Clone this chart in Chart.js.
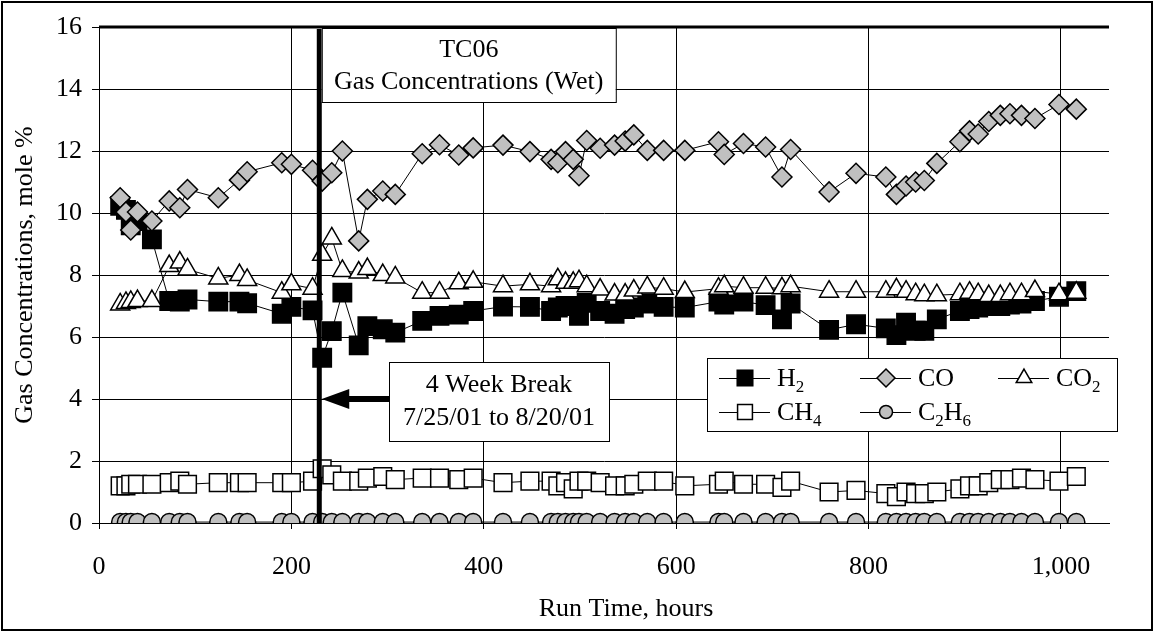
<!DOCTYPE html>
<html>
<head>
<meta charset="utf-8">
<script src="https://cdn.jsdelivr.net/npm/chart.js@4.4.1/dist/chart.umd.min.js"></script>
<style>
  html, body { margin: 0; padding: 0; background: #fff; }
  canvas { display: block; }
</style>
</head>
<body>
<canvas id="chart" width="1154" height="632"></canvas>
<script>
// Run time of each gas sample, hours
const hours = [22, 28, 33, 40, 55, 73, 84, 92, 124, 146, 154, 190, 200, 222, 232,
  242, 253, 270, 279, 295, 308, 336, 354, 374, 389, 420, 448, 470, 477, 485,
  493, 499, 507, 521, 536, 547, 556, 570, 587, 609, 644, 650, 670, 693, 710,
  719, 759, 787, 818, 829, 839, 849, 858, 871, 895, 905, 914, 925, 937, 947,
  959, 973, 998, 1016];

// Wet gas concentrations, mole %
const h2 = [10.23, 10.1, 9.6, 9.74, 9.15, 7.16, 7.14, 7.21, 7.14, 7.14, 7.09, 6.75, 6.97, 6.86, 5.33,
  6.19, 7.43, 5.73, 6.35, 6.25, 6.14, 6.52, 6.68, 6.72, 6.84, 6.98, 6.97, 6.84, 6.95, 7.0,
  7.0, 6.68, 7.1, 6.84, 6.75, 6.9, 6.95, 7.08, 6.97, 6.95, 7.14, 7.05, 7.14, 7.03, 6.57,
  7.08, 6.23, 6.41, 6.28, 6.06, 6.46, 6.2, 6.2, 6.57, 6.84, 6.9, 6.95, 7.0, 7.0, 7.05,
  7.08, 7.16, 7.3, 7.48];
const co = [10.49, 10.03, 9.45, 10.03, 9.74, 10.39, 10.17, 10.76, 10.49, 11.06, 11.33, 11.62, 11.57, 11.38, 11.03,
  11.3, 12.0, 9.1, 10.44, 10.71, 10.6, 11.91, 12.2, 11.87, 12.1, 12.19, 11.98, 11.73, 11.62, 11.98,
  11.73, 11.2, 12.34, 12.09, 12.19, 12.32, 12.52, 12.02, 12.02, 12.02, 12.3, 11.89, 12.24, 12.13, 11.16,
  12.05, 10.68, 11.28, 11.16, 10.6, 10.87, 11.0, 11.05, 11.6, 12.3, 12.65, 12.55, 12.95, 13.15, 13.2,
  13.15, 13.05, 13.5, 13.35];
const co2 = [7.05, 7.1, 7.13, 7.16, 7.16, 8.29, 8.4, 8.18, 7.89, 8.0, 7.84, 7.43, 7.7, 7.56, 8.65,
  9.18, 8.13, 8.08, 8.19, 8.0, 7.92, 7.43, 7.43, 7.73, 7.78, 7.64, 7.7, 7.64, 7.86, 7.75,
  7.75, 7.8, 7.64, 7.53, 7.37, 7.37, 7.5, 7.6, 7.56, 7.45, 7.56, 7.64, 7.59, 7.59, 7.57,
  7.64, 7.46, 7.46, 7.46, 7.54, 7.46, 7.38, 7.35, 7.35, 7.38, 7.43, 7.38, 7.32, 7.32, 7.38,
  7.38, 7.48, 7.38, 7.43];
const ch4 = [1.2, 1.2, 1.25, 1.25, 1.25, 1.3, 1.35, 1.25, 1.3, 1.3, 1.3, 1.3, 1.3, 1.35, 1.75,
  1.55, 1.35, 1.35, 1.45, 1.5, 1.4, 1.45, 1.45, 1.4, 1.45, 1.3, 1.35, 1.35, 1.2, 1.3,
  1.1, 1.35, 1.35, 1.3, 1.2, 1.2, 1.25, 1.35, 1.35, 1.2, 1.25, 1.35, 1.25, 1.25, 1.15,
  1.35, 1.0, 1.05, 0.95, 0.85, 1.0, 0.95, 0.95, 1.0, 1.1, 1.2, 1.2, 1.3, 1.4, 1.4,
  1.45, 1.4, 1.35, 1.5];
const c2h6 = [0.03, 0.03, 0.03, 0.03, 0.03, 0.03, 0.03, 0.03, 0.03, 0.03, 0.03, 0.03, 0.03, 0.03, 0.03,
  0.03, 0.03, 0.03, 0.03, 0.03, 0.03, 0.03, 0.03, 0.03, 0.03, 0.03, 0.03, 0.03, 0.03, 0.03,
  0.03, 0.03, 0.03, 0.03, 0.03, 0.03, 0.03, 0.03, 0.03, 0.03, 0.03, 0.03, 0.03, 0.03, 0.03,
  0.03, 0.03, 0.03, 0.03, 0.03, 0.03, 0.03, 0.03, 0.03, 0.03, 0.03, 0.03, 0.03, 0.03, 0.03,
  0.03, 0.03, 0.03, 0.03];

// Axis ticks
const xTicks = [0, 200, 400, 600, 800, 1000];
const yTicks = [0, 2, 4, 6, 8, 10, 12, 14, 16];

// Axis titles
const xTitle = 'Run Time, hours';
const yTitle = 'Gas Concentrations, mole %';

// Plant outage marker (run hour) and its note
const breakHours = 229;
const titleLines = ['TC06', 'Gas Concentrations (Wet)'];
const breakLines = ['4 Week Break', '7/25/01 to 8/20/01'];

// Series names: "_d" marks a subscript digit
const seriesNames = ['H_2', 'CO', 'CO_2', 'CH_4', 'C_2H_6'];

const FONT = '"Liberation Serif", "Times New Roman", serif';

function pts(vals) { return hours.map((h, i) => ({ x: h, y: vals[i] })); }

function series(i, vals, style, radius, fill, order) {
  return {
    label: seriesNames[i],
    data: pts(vals),
    showLine: true,
    borderColor: '#000',
    borderWidth: 1,
    pointStyle: style,
    pointRadius: radius,
    pointHoverRadius: radius,
    pointBackgroundColor: fill,
    pointBorderColor: '#000',
    pointBorderWidth: 1.5,
    order: order
  };
}

const datasets = [
  series(0, h2, 'rect', 13, '#000', 5),
  series(1, co, 'rectRot', 10, '#c0c0c0', 4),
  series(2, co2, 'triangle', 11, '#fff', 3),
  series(3, ch4, 'rect', 12.5, '#fff', 2),
  series(4, c2h6, 'circle', 8.5, '#c0c0c0', 1)
];

function drawRich(ctx, text, x, y, size) {
  // draws a formula such as CO_2 with subscript digits, left aligned at x
  let cx = x;
  for (let i = 0; i < text.length; i++) {
    if (text[i] === '_') {
      const d = text[++i];
      ctx.font = Math.round(size * 0.66) + 'px ' + FONT;
      ctx.fillText(d, cx, y + size * 0.32);
      cx += ctx.measureText(d).width;
    } else {
      ctx.font = size + 'px ' + FONT;
      ctx.fillText(text[i], cx, y);
      cx += ctx.measureText(text[i]).width;
    }
  }
}

function box(ctx, b) {
  ctx.fillStyle = '#fff';
  ctx.fillRect(b.x, b.y, b.w, b.h);
  ctx.strokeStyle = '#000';
  ctx.lineWidth = 1;
  ctx.strokeRect(b.x + 0.5, b.y + 0.5, b.w, b.h);
}

const decorations = {
  id: 'decorations',
  beforeDraw(chart) {
    const ctx = chart.ctx;
    ctx.save();
    ctx.fillStyle = '#fff';
    ctx.fillRect(0, 0, chart.width, chart.height);
    ctx.restore();
  },
  afterDatasetsDraw(chart) {
    const ctx = chart.ctx;
    const xs = chart.scales.x, ys = chart.scales.y;
    const area = chart.chartArea;
    ctx.save();

    // heavier top edge of the plot area
    ctx.fillStyle = '#000';
    ctx.fillRect(area.left, area.top - 1.5, area.right - area.left, 3);

    // outage line
    const bx = xs.getPixelForValue(breakHours);
    ctx.fillRect(bx - 2.5, area.top + 2, 5, ys.getPixelForValue(0) - area.top - 2);

    // title box
    const tb = { x: bx + 2.5, y: area.top + 1, w: 294, h: 74 };
    box(ctx, tb);
    ctx.fillStyle = '#000';
    ctx.font = '26px ' + FONT;
    ctx.textAlign = 'center';
    ctx.textBaseline = 'middle';
    ctx.fillText(titleLines[0], tb.x + tb.w / 2, tb.y + 22);
    ctx.fillText(titleLines[1], tb.x + tb.w / 2, tb.y + 54);

    // break note with arrow
    const ay = ys.getPixelForValue(4);
    const nb = { x: 389, y: ay - 37, w: 220, h: 79 };
    ctx.fillStyle = '#000';
    ctx.fillRect(bx + 26, ay - 3, nb.x - bx - 26, 6);
    ctx.beginPath();
    ctx.moveTo(bx + 2.5, ay);
    ctx.lineTo(bx + 30, ay - 10);
    ctx.lineTo(bx + 30, ay + 10);
    ctx.closePath();
    ctx.fill();
    box(ctx, nb);
    ctx.fillStyle = '#000';
    ctx.fillText(breakLines[0], nb.x + nb.w / 2, nb.y + 23);
    ctx.fillText(breakLines[1], nb.x + nb.w / 2, nb.y + 56);

    // x axis title
    ctx.fillText(xTitle, 626, 609);

    // legend
    const lg = { x: 707, y: 358, w: 410, h: 73 };
    box(ctx, lg);
    const cols = [719, 860, 998];
    const rows = [378, 412];
    const slots = [[0, 0], [1, 0], [2, 0], [0, 1], [1, 1]];
    chart.data.datasets.forEach((ds, i) => {
      const lx = cols[slots[i][0]], ly = rows[slots[i][1]];
      ctx.strokeStyle = '#000';
      ctx.lineWidth = 1;
      ctx.beginPath();
      ctx.moveTo(lx, ly + 0.5);
      ctx.lineTo(lx + 51, ly + 0.5);
      ctx.stroke();
      ctx.fillStyle = ds.pointBackgroundColor;
      ctx.strokeStyle = ds.pointBorderColor;
      ctx.lineWidth = ds.pointBorderWidth;
      Chart.helpers.drawPoint(ctx, {
        pointStyle: ds.pointStyle,
        radius: ds.pointStyle === 'rectRot' ? 9 : ds.pointRadius - 2,
        rotation: 0,
        borderWidth: ds.pointBorderWidth
      }, lx + 26, ly);
      ctx.fillStyle = '#000';
      ctx.textAlign = 'left';
      ctx.textBaseline = 'middle';
      drawRich(ctx, ds.label, lx + 58, ly + 1, 26);
    });

    // outer frame
    ctx.strokeStyle = '#000';
    ctx.lineWidth = 2;
    ctx.strokeRect(2, 2, chart.width - 4, chart.height - 4);
    ctx.restore();
  }
};

new Chart(document.getElementById('chart'), {
  type: 'scatter',
  data: { datasets },
  plugins: [decorations],
  options: {
    responsive: false,
    animation: false,
    events: [],
    layout: { padding: { left: 0, right: 45, top: 27, bottom: 0 } },
    plugins: { legend: { display: false }, tooltip: { enabled: false } },
    scales: {
      x: {
        type: 'linear',
        min: 0,
        max: 1050,
        afterBuildTicks(scale) { scale.ticks = xTicks.map(v => ({ value: v })); },
        afterFit(scale) { scale.height = 632 - 523; },
        ticks: {
          autoSkip: false,
          maxRotation: 0,
          color: '#000',
          padding: 23,
          font: { family: FONT, size: 26 },
          callback: v => v.toLocaleString('en-US')
        },
        grid: { color: '#000', lineWidth: 1, tickLength: 6 },
        border: { color: '#000', width: 1 },
        title: { display: false }
      },
      y: {
        min: 0,
        max: 16,
        afterBuildTicks(scale) { scale.ticks = yTicks.map(v => ({ value: v })); },
        afterFit(scale) { scale.width = 99; },
        ticks: {
          color: '#000',
          padding: 10,
          font: { family: FONT, size: 26 }
        },
        grid: { color: '#000', lineWidth: 1, tickLength: 7 },
        border: { color: '#000', width: 1 },
        title: {
          display: true,
          text: yTitle,
          color: '#000',
          font: { family: FONT, size: 26 },
          padding: { top: 10, bottom: 0 }
        }
      }
    }
  }
});
</script>
</body>
</html>
